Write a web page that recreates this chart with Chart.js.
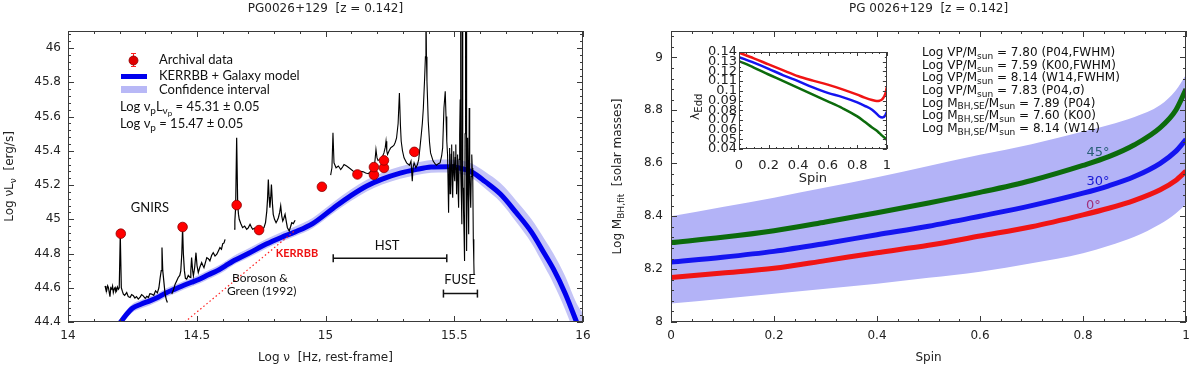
<!DOCTYPE html>
<html>
<head>
<meta charset="utf-8">
<script src="https://cdn.jsdelivr.net/npm/chart.js@4.4.1/dist/chart.umd.min.js"></script>
<style>
html,body{margin:0;padding:0;background:#ffffff;}
#wrap{position:relative;width:1200px;height:368px;overflow:hidden;background:#fff;}
#wrap canvas{position:absolute;display:block;}
</style>
</head>
<body>
<div id="wrap">
<canvas id="sed" width="600" height="368" style="left:0px;top:0px;width:600px;height:368px;"></canvas>
<canvas id="spin" width="600" height="368" style="left:600px;top:0px;width:600px;height:368px;"></canvas>
<canvas id="inset" width="210" height="150" style="left:690px;top:40px;width:210px;height:150px;"></canvas>
</div>
<script>
// ================= LEFT PANEL DATA (SED) =================
const sedTitleText = 'PG0026+129  [z = 0.142]';
const sedXTicks = [14, 14.5, 15, 15.5, 16];
const sedYTicks = [44.4, 44.6, 44.8, 45, 45.2, 45.4, 45.6, 45.8, 46];

const archivalNu = [14.205, 14.445, 14.655, 14.742, 14.986, 15.124, 15.188, 15.188, 15.227, 15.227, 15.345];
const archivalL  = [44.916, 44.955, 45.083, 44.937, 45.190, 45.262, 45.260, 45.305, 45.300, 45.344, 45.394];

const gnirs1Nu = [14.144, 14.147, 14.150, 14.154, 14.157, 14.160, 14.163, 14.166, 14.170, 14.173, 14.176, 14.180, 14.183, 14.186, 14.189, 14.192, 14.196, 14.199, 14.203, 14.207, 14.211, 14.215, 14.220, 14.228, 14.234, 14.241, 14.247, 14.254, 14.260, 14.266, 14.273, 14.280, 14.286, 14.292, 14.300, 14.306, 14.312, 14.318, 14.325, 14.333, 14.340, 14.347, 14.353, 14.358, 14.362, 14.365, 14.368, 14.372, 14.377, 14.382, 14.386];
const gnirs1L  = [44.611, 44.590, 44.582, 44.612, 44.601, 44.575, 44.548, 44.600, 44.592, 44.610, 44.572, 44.595, 44.601, 44.575, 44.582, 44.605, 44.592, 44.600, 44.913, 44.601, 44.580, 44.563, 44.556, 44.572, 44.548, 44.543, 44.560, 44.553, 44.540, 44.548, 44.534, 44.545, 44.560, 44.553, 44.538, 44.550, 44.543, 44.565, 44.563, 44.556, 44.582, 44.570, 44.600, 44.660, 44.700, 44.835, 44.700, 44.640, 44.563, 44.530, 44.514];

const gnirs2Nu = [14.403, 14.409, 14.416, 14.422, 14.428, 14.434, 14.438, 14.442, 14.445, 14.448, 14.452, 14.456, 14.461, 14.467, 14.474, 14.477, 14.480, 14.484, 14.487, 14.492, 14.497, 14.501, 14.506, 14.512, 14.519, 14.524, 14.528, 14.534, 14.539, 14.545, 14.551, 14.558, 14.564, 14.571, 14.578, 14.584, 14.590, 14.596, 14.601, 14.606, 14.610];
const gnirs2L  = [44.563, 44.585, 44.621, 44.640, 44.660, 44.672, 44.699, 44.800, 44.951, 44.800, 44.700, 44.655, 44.650, 44.672, 44.660, 44.700, 44.776, 44.700, 44.670, 44.720, 44.805, 44.730, 44.689, 44.720, 44.747, 44.730, 44.718, 44.750, 44.776, 44.770, 44.757, 44.790, 44.805, 44.785, 44.796, 44.815, 44.835, 44.825, 44.858, 44.862, 44.883];

const gnirs3Nu = [14.645, 14.648, 14.651, 14.655, 14.659, 14.662, 14.665, 14.671, 14.678, 14.686, 14.694, 14.700, 14.707, 14.712, 14.717, 14.725, 14.733, 14.740, 14.746, 14.754, 14.761, 14.767, 14.772, 14.775, 14.778, 14.781, 14.784, 14.787, 14.790, 14.794, 14.797, 14.802, 14.808, 14.813, 14.817, 14.822, 14.826, 14.830, 14.834, 14.838, 14.843, 14.848, 14.852, 14.856, 14.859, 14.864, 14.869, 14.875, 14.882];
const gnirs3L  = [44.942, 44.990, 45.068, 45.476, 45.087, 45.030, 45.000, 44.975, 44.951, 44.960, 44.942, 44.950, 44.971, 44.955, 44.942, 44.948, 44.942, 44.950, 44.955, 44.945, 44.951, 44.980, 45.048, 45.120, 45.233, 45.130, 45.068, 45.120, 45.203, 45.090, 45.029, 45.000, 44.980, 44.995, 45.009, 45.040, 45.078, 45.020, 44.990, 45.005, 45.029, 44.985, 44.951, 44.940, 44.932, 44.955, 44.980, 44.975, 44.994];

const hstNu = [15.020, 15.025, 15.029, 15.033, 15.041, 15.050, 15.059, 15.066, 15.072, 15.082, 15.095, 15.108, 15.118, 15.127, 15.137, 15.147, 15.156, 15.166, 15.179, 15.188, 15.192, 15.196, 15.200, 15.204, 15.211, 15.218, 15.227, 15.232, 15.235, 15.238, 15.241, 15.247, 15.253, 15.260, 15.266, 15.271, 15.276, 15.282, 15.287, 15.291, 15.294, 15.299, 15.305, 15.315, 15.326, 15.332, 15.337, 15.340, 15.344, 15.351, 15.357, 15.362, 15.367, 15.372, 15.376, 15.380, 15.385, 15.388, 15.390, 15.392, 15.394, 15.399, 15.404, 15.408, 15.418, 15.425, 15.431, 15.438, 15.445, 15.451, 15.455, 15.460, 15.465, 15.468, 15.471, 15.474];
const hstL  = [45.258, 45.301, 45.505, 45.330, 45.301, 45.311, 45.291, 45.305, 45.320, 45.311, 45.297, 45.281, 45.278, 45.272, 45.280, 45.277, 45.270, 45.266, 45.285, 45.297, 45.340, 45.408, 45.360, 45.344, 45.350, 45.355, 45.388, 45.420, 45.456, 45.400, 45.379, 45.400, 45.417, 45.425, 45.433, 45.450, 45.476, 45.560, 45.738, 45.550, 45.456, 45.400, 45.359, 45.330, 45.316, 45.340, 45.223, 45.300, 45.330, 45.301, 45.320, 45.350, 45.420, 45.495, 45.560, 45.650, 45.825, 45.950, 46.300, 45.950, 45.806, 45.573, 45.450, 45.388, 45.340, 45.325, 45.316, 45.325, 45.330, 45.370, 45.417, 45.650, 45.748, 45.600, 45.456, 45.379];

const fuseNu = [15.478, 15.480, 15.482, 15.484, 15.486, 15.488, 15.490, 15.492, 15.494, 15.496, 15.498, 15.500, 15.502, 15.504, 15.506, 15.508, 15.509, 15.511, 15.513, 15.515, 15.517, 15.519, 15.521, 15.523, 15.524, 15.526, 15.528, 15.529, 15.530, 15.531, 15.533, 15.534, 15.536, 15.538, 15.540, 15.542, 15.543, 15.545, 15.546, 15.548, 15.550, 15.552, 15.554, 15.556, 15.558, 15.560, 15.562, 15.564, 15.566, 15.568, 15.570, 15.572, 15.574, 15.576, 15.577];
const fuseL  = [45.038, 45.300, 45.417, 45.150, 45.184, 45.380, 45.437, 45.200, 45.126, 45.320, 45.398, 45.260, 45.223, 45.360, 45.437, 45.250, 45.146, 45.300, 45.379, 45.160, 45.068, 45.350, 45.495, 45.700, 46.300, 45.281, 45.100, 44.971, 45.400, 46.300, 45.300, 45.184, 45.050, 44.913, 44.757, 45.500, 46.300, 45.600, 46.300, 44.815, 45.200, 45.476, 45.150, 44.913, 45.650, 45.300, 45.150, 45.068, 45.250, 45.379, 45.300, 45.223, 44.883, 44.750, 44.680];

const modelNu = [14.185, 14.200, 14.225, 14.250, 14.285, 14.320, 14.350, 14.380, 14.415, 14.450, 14.480, 14.510, 14.545, 14.580, 14.610, 14.640, 14.700, 14.770, 14.830, 14.880, 14.950, 15.030, 15.100, 15.160, 15.220, 15.290, 15.350, 15.410, 15.470, 15.520, 15.570, 15.620, 15.680, 15.740, 15.800, 15.850, 15.885, 15.930, 15.975, 16.000];
const modelL  = [44.360, 44.390, 44.440, 44.480, 44.505, 44.525, 44.545, 44.570, 44.592, 44.615, 44.632, 44.650, 44.676, 44.700, 44.727, 44.755, 44.800, 44.855, 44.895, 44.925, 44.975, 45.065, 45.140, 45.195, 45.235, 45.270, 45.290, 45.305, 45.307, 45.300, 45.275, 45.220, 45.146, 45.040, 44.925, 44.800, 44.710, 44.570, 44.400, 44.300];
const confHi  = [44.385, 44.415, 44.465, 44.505, 44.530, 44.550, 44.570, 44.595, 44.617, 44.640, 44.657, 44.676, 44.702, 44.727, 44.754, 44.783, 44.829, 44.885, 44.926, 44.957, 45.008, 45.099, 45.175, 45.231, 45.272, 45.308, 45.330, 45.347, 45.350, 45.345, 45.325, 45.278, 45.210, 45.110, 45.000, 44.885, 44.800, 44.670, 44.510, 44.450];
const confLo  = [44.335, 44.365, 44.415, 44.455, 44.480, 44.500, 44.520, 44.545, 44.567, 44.590, 44.607, 44.625, 44.650, 44.675, 44.700, 44.730, 44.775, 44.830, 44.870, 44.900, 44.948, 45.035, 45.108, 45.163, 45.203, 45.237, 45.258, 45.272, 45.274, 45.266, 45.240, 45.180, 45.100, 44.985, 44.860, 44.725, 44.625, 44.475, 44.300, 44.200];

const bgNu = [14.454, 14.878];
const bgL  = [44.400, 44.930];
const hstBarNu = [15.030, 15.471];
const hstBarL  = [44.773, 44.773];
const fuseBarNu = [15.458, 15.590];
const fuseBarL  = [44.566, 44.566];

// ================= RIGHT PANEL DATA (mass vs spin) =================
const spinTitleText = 'PG 0026+129  [z = 0.142]';
const spinXTicks = [0, 0.2, 0.4, 0.6, 0.8, 1];
const massYTicks = [8, 8.2, 8.4, 8.6, 8.8, 9];
const spinGrid   = [0, 0.1, 0.2, 0.3, 0.4, 0.5, 0.6, 0.7, 0.8, 0.85, 0.9, 0.95, 0.98, 1];
const mass0deg   = [8.168, 8.185, 8.203, 8.232, 8.262, 8.290, 8.325, 8.360, 8.405, 8.430, 8.460, 8.500, 8.535, 8.570];
const mass30deg  = [8.227, 8.245, 8.267, 8.297, 8.330, 8.362, 8.400, 8.440, 8.487, 8.515, 8.550, 8.600, 8.645, 8.690];
const mass45deg  = [8.300, 8.320, 8.345, 8.378, 8.413, 8.450, 8.490, 8.535, 8.592, 8.625, 8.670, 8.735, 8.800, 8.880];
const massBandHi = [8.400, 8.435, 8.470, 8.508, 8.547, 8.590, 8.632, 8.672, 8.720, 8.745, 8.775, 8.820, 8.875, 8.935];
const massBandLo = [8.070, 8.088, 8.107, 8.126, 8.145, 8.167, 8.190, 8.222, 8.260, 8.288, 8.322, 8.370, 8.410, 8.446];
const massNotes = [
  [['Log VP/M',0],['sun',1],[' = 7.80 (P04,FWHM)',0]],
  [['Log VP/M',0],['sun',1],[' = 7.59 (K00,FWHM)',0]],
  [['Log VP/M',0],['sun',1],[' = 8.14 (W14,FWHM)',0]],
  [['Log VP/M',0],['sun',1],[' = 7.83 (P04,\u03c3)',0]],
  [['Log M',0],['BH,SE',1],['/M',0],['sun',1],[' = 7.89 (P04)',0]],
  [['Log M',0],['BH,SE',1],['/M',0],['sun',1],[' = 7.60 (K00)',0]],
  [['Log M',0],['BH,SE',1],['/M',0],['sun',1],[' = 8.14 (W14)',0]]
];

// ================= INSET DATA (Eddington ratio vs spin) =================
const insetXTicks = [0, 0.2, 0.4, 0.6, 0.8, 1];
const insetYTicks = [0.04, 0.05, 0.06, 0.07, 0.08, 0.09, 0.1, 0.11, 0.12, 0.13, 0.14];
const insetSpin  = [0, 0.1, 0.2, 0.3, 0.4, 0.5, 0.6, 0.7, 0.8, 0.85, 0.9, 0.93, 0.95, 0.97, 0.99, 1];
const eddRatio0  = [0.1393, 0.1335, 0.1272, 0.1210, 0.1150, 0.1105, 0.1064, 0.1015, 0.0960, 0.0930, 0.0905, 0.0895, 0.0898, 0.0915, 0.0970, 0.1040];
const eddRatio30 = [0.1348, 0.1290, 0.1227, 0.1160, 0.1100, 0.1035, 0.0978, 0.0935, 0.0880, 0.0845, 0.0805, 0.0765, 0.0735, 0.0725, 0.0748, 0.0785];
const eddRatio45 = [0.1307, 0.1240, 0.1168, 0.1100, 0.1030, 0.0960, 0.0891, 0.0820, 0.0736, 0.0680, 0.0622, 0.0590, 0.0563, 0.0535, 0.0510, 0.0494];

// ================= helpers =================
const pts = (xs, ys) => xs.map((x, i) => ({x: x, y: ys[i]}));
const FONT = 'DejaVu Sans';
const LATO = 'Lato, "DejaVu Sans"';

function rich(ctx, parts, x, y, o) {
  const size = o.size || 12, fam = o.family || FONT, weight = o.weight || 'normal';
  const sz = [size, Math.round(size * 0.74), Math.round(size * 0.6)];
  const dy = [0, size * 0.3, size * 0.5];
  let w = 0;
  const ws = parts.map(p => { ctx.font = weight + ' ' + sz[p[1]] + 'px ' + fam; const m = ctx.measureText(p[0]).width; w += m; return m; });
  let cx = o.align === 'center' ? x - w / 2 : (o.align === 'right' ? x - w : x);
  ctx.fillStyle = o.color || '#111';
  ctx.textAlign = 'left'; ctx.textBaseline = 'middle';
  parts.forEach((p, i) => { ctx.font = weight + ' ' + sz[p[1]] + 'px ' + fam; ctx.fillText(p[0], cx, y + dy[p[1]]); cx += ws[i]; });
}
function richRot(ctx, parts, x, y, o) {
  ctx.save(); ctx.translate(x, y); ctx.rotate(-Math.PI / 2);
  rich(ctx, parts, 0, 0, Object.assign({}, o, {align: 'center'}));
  ctx.restore();
}
function frameTicks(chart, o) {
  const ctx = chart.ctx, a = chart.chartArea, xs = chart.scales.x, ys = chart.scales.y;
  const isMaj = (v, s) => Math.abs(v / s - Math.round(v / s)) < 1e-6;
  ctx.save();
  ctx.strokeStyle = '#3a3a3a'; ctx.lineWidth = 1;
  ctx.beginPath();
  for (let k = Math.ceil(xs.min / o.xMinor - 1e-9); k * o.xMinor <= xs.max + 1e-9; k++) {
    const v = k * o.xMinor, p = Math.round(xs.getPixelForValue(v)) + 0.5;
    const L = isMaj(v, o.xMajor) ? o.maj : o.min;
    ctx.moveTo(p, a.bottom); ctx.lineTo(p, a.bottom - L);
    ctx.moveTo(p, a.top); ctx.lineTo(p, a.top + L);
  }
  for (let k = Math.ceil(ys.min / o.yMinor - 1e-9); k * o.yMinor <= ys.max + 1e-9; k++) {
    const v = k * o.yMinor, p = Math.round(ys.getPixelForValue(v)) + 0.5;
    const L = isMaj(v, o.yMajor) ? o.maj : o.min;
    ctx.moveTo(a.left, p); ctx.lineTo(a.left + L, p);
    ctx.moveTo(a.right, p); ctx.lineTo(a.right - L, p);
  }
  ctx.stroke();
  ctx.strokeRect(Math.round(a.left) + 0.5, Math.round(a.top) + 0.5, Math.round(a.right - a.left) - 1, Math.round(a.bottom - a.top) - 1);
  ctx.restore();
}
function axisCfg(min, max, ticksArr, o) {
  return {
    type: 'linear', min: min, max: max,
    afterBuildTicks: s => { s.ticks = ticksArr.map(v => ({value: v})); },
    afterFit: s => { if (o.w !== undefined) s.width = o.w; if (o.h !== undefined) s.height = o.h; },
    grid: {display: false, drawTicks: false},
    border: {display: false},
    ticks: {font: {family: FONT, size: o.size || 12}, color: '#222', padding: o.pad, autoSkip: false, maxRotation: 0, minRotation: 0,
      callback: v => String(v)}
  };
}
const baseOpts = {
  responsive: false, animation: false, events: [],
  plugins: {legend: {display: false}, tooltip: {enabled: false}, title: {display: false}}
};
const lineDs = (data, color, width, extra) => Object.assign({data: data, showLine: true, borderColor: color, borderWidth: width, pointRadius: 0, fill: false}, extra || {});

// ================= LEFT CHART =================
const sedDecor = {
  id: 'sedDecor',
  afterDraw(chart) {
    const ctx = chart.ctx, a = chart.chartArea, xs = chart.scales.x, ys = chart.scales.y;
    frameTicks(chart, {xMinor: 0.1, xMajor: 0.5, yMinor: 0.04, yMajor: 0.2, maj: 6, min: 3});
    const cx = (a.left + a.right) / 2;
    rich(ctx, [[sedTitleText, 0]], cx, 9, {size: 12, align: 'center', color: '#222'});
    rich(ctx, [['Log \u03bd  [Hz, rest-frame]', 0]], cx, 358, {size: 12, align: 'center', color: '#222'});
    richRot(ctx, [['Log \u03bdL', 0], ['\u03bd', 1], ['  [erg/s]', 0]], 10, (a.top + a.bottom) / 2, {size: 12, color: '#222'});
    // legend
    ctx.save();
    ctx.strokeStyle = '#ff2020'; ctx.lineWidth = 1;
    ctx.beginPath();
    ctx.moveTo(133.5, 53); ctx.lineTo(133.5, 67);
    ctx.moveTo(131, 53.5); ctx.lineTo(136, 53.5);
    ctx.moveTo(131, 66.5); ctx.lineTo(136, 66.5);
    ctx.stroke();
    ctx.beginPath(); ctx.arc(133.5, 60.5, 4.5, 0, Math.PI * 2);
    ctx.fillStyle = '#e00000'; ctx.fill(); ctx.strokeStyle = '#8a0000'; ctx.lineWidth = 0.8; ctx.stroke();
    ctx.fillStyle = '#0000ee'; ctx.fillRect(121, 74, 26, 5);
    ctx.fillStyle = '#b8b8f6'; ctx.fillRect(121, 86, 26, 7);
    ctx.restore();
    rich(ctx, [['Archival data', 0]], 159, 60, {size: 13, family: LATO});
    rich(ctx, [['KERRBB + Galaxy model', 0]], 159, 76, {size: 13, family: LATO});
    rich(ctx, [['Confidence interval', 0]], 159, 90, {size: 13, family: LATO});
    rich(ctx, [['Log \u03bd', 0], ['p', 1], ['L', 0], ['\u03bd', 1], ['p', 2], [' = 45.31 \u00b1 0.05', 0]], 120, 107, {size: 13, family: LATO});
    rich(ctx, [['Log \u03bd', 0], ['p', 1], [' = 15.47 \u00b1 0.05', 0]], 120, 124, {size: 13, family: LATO});
    // annotations
    const X = v => xs.getPixelForValue(v), Y = v => ys.getPixelForValue(v);
    rich(ctx, [['GNIRS', 0]], X(14.318), Y(45.066), {size: 13, family: LATO, align: 'center'});
    rich(ctx, [['KERRBB', 0]], X(14.889), Y(44.800), {size: 11, family: LATO, weight: 'bold', align: 'center', color: '#ee1111'});
    rich(ctx, [['Boroson &', 0]], X(14.745), Y(44.658), {size: 12, family: LATO, align: 'center'});
    rich(ctx, [['Green (1992)', 0]], X(14.752), Y(44.582), {size: 12, family: LATO, align: 'center'});
    rich(ctx, [['HST', 0]], X(15.239), Y(44.844), {size: 13, family: LATO, align: 'center'});
    rich(ctx, [['FUSE', 0]], X(15.522), Y(44.645), {size: 13, family: LATO, align: 'center'});
  }
};

new Chart(document.getElementById('sed'), {
  type: 'scatter',
  data: {datasets: [
    {data: pts(archivalNu, archivalL), pointRadius: 4.8, backgroundColor: '#ff0000', borderColor: '#8a0000', borderWidth: 0.8, showLine: false},
    lineDs(pts(gnirs1Nu, gnirs1L), '#000', 1.2),
    lineDs(pts(gnirs2Nu, gnirs2L), '#000', 1.2),
    lineDs(pts(gnirs3Nu, gnirs3L), '#000', 1.2),
    lineDs(pts(hstNu.concat(fuseNu), hstL.concat(fuseL)), '#000', 1.1),
    lineDs(pts(hstBarNu, hstBarL), '#111', 1.5, {pointStyle: 'line', rotation: 90, pointRadius: 4, pointBorderWidth: 1.5, pointBorderColor: '#111'}),
    lineDs(pts(fuseBarNu, fuseBarL), '#111', 1.5, {pointStyle: 'line', rotation: 90, pointRadius: 4, pointBorderWidth: 1.5, pointBorderColor: '#111'}),
    lineDs(pts(bgNu, bgL), '#ff2020', 1.2, {borderDash: [1.5, 2.5]}),
    lineDs(pts(modelNu, modelL), '#0000ee', 5, {cubicInterpolationMode: 'monotone', borderCapStyle: 'butt'}),
    lineDs(pts(modelNu, confHi), 'rgba(0,0,0,0)', 0, {cubicInterpolationMode: 'monotone', fill: '+1', backgroundColor: '#c4c4f7'}),
    lineDs(pts(modelNu, confLo), 'rgba(0,0,0,0)', 0, {cubicInterpolationMode: 'monotone'})
  ]},
  options: Object.assign({}, baseOpts, {
    layout: {padding: {top: 31, right: 17, left: 0, bottom: 0}},
    scales: {
      x: axisCfg(14, 16, sedXTicks, {h: 46, pad: 7}),
      y: axisCfg(44.4, 46.1, sedYTicks, {w: 68, pad: 7})
    }
  }),
  plugins: [sedDecor]
});

// ================= RIGHT CHART =================
const spinDecor = {
  id: 'spinDecor',
  afterDraw(chart) {
    const ctx = chart.ctx, a = chart.chartArea, xs = chart.scales.x, ys = chart.scales.y;
    frameTicks(chart, {xMinor: 0.04, xMajor: 0.2, yMinor: 0.04, yMajor: 0.2, maj: 6, min: 3});
    const cx = (a.left + a.right) / 2;
    rich(ctx, [[spinTitleText, 0]], cx, 9, {size: 12, align: 'center', color: '#222'});
    rich(ctx, [['Spin', 0]], cx, 358, {size: 12, align: 'center', color: '#222'});
    richRot(ctx, [['Log M', 0], ['BH,fit', 1], ['  [solar masses]', 0]], 18, (a.top + a.bottom) / 2, {size: 12, color: '#222'});
    massNotes.forEach((parts, i) => rich(ctx, parts, 322, 53 + 12.6 * i, {size: 12, color: '#111'}));
    const X = v => xs.getPixelForValue(v), Y = v => ys.getPixelForValue(v);
    rich(ctx, [['45\u00b0', 0]], X(0.829), Y(8.642), {size: 13, align: 'center', color: '#2a5f78'});
    rich(ctx, [['30\u00b0', 0]], X(0.829), Y(8.529), {size: 13, align: 'center', color: '#1a1ad6'});
    rich(ctx, [['0\u00b0', 0]], X(0.820), Y(8.440), {size: 13, align: 'center', color: '#a0307a'});
  }
};

new Chart(document.getElementById('spin'), {
  type: 'scatter',
  data: {datasets: [
    lineDs(pts(spinGrid, mass0deg), '#f01414', 5, {cubicInterpolationMode: 'monotone'}),
    lineDs(pts(spinGrid, mass30deg), '#1414f0', 5, {cubicInterpolationMode: 'monotone'}),
    lineDs(pts(spinGrid, mass45deg), '#0c6b0c', 5, {cubicInterpolationMode: 'monotone'}),
    lineDs(pts(spinGrid, massBandHi), 'rgba(0,0,0,0)', 0, {cubicInterpolationMode: 'monotone', fill: '+1', backgroundColor: '#b3b3f7'}),
    lineDs(pts(spinGrid, massBandLo), 'rgba(0,0,0,0)', 0, {cubicInterpolationMode: 'monotone'})
  ]},
  options: Object.assign({}, baseOpts, {
    layout: {padding: {top: 31, right: 14, left: 0, bottom: 0}},
    scales: {
      x: axisCfg(0, 1, spinXTicks, {h: 46, pad: 7}),
      y: axisCfg(8, 9.1, massYTicks, {w: 71, pad: 8})
    }
  }),
  plugins: [spinDecor]
});

// ================= INSET CHART =================
const insetDecor = {
  id: 'insetDecor',
  afterDraw(chart) {
    const ctx = chart.ctx, a = chart.chartArea;
    frameTicks(chart, {xMinor: 0.05, xMajor: 0.2, yMinor: 0.005, yMajor: 0.01, maj: 4, min: 2});
    rich(ctx, [['Spin', 0]], (a.left + a.right) / 2, 139, {size: 13, align: 'center', color: '#222'});
    richRot(ctx, [['\u03bb', 0], ['Edd', 1]], 6, 67, {size: 13, color: '#222'});
  }
};

new Chart(document.getElementById('inset'), {
  type: 'scatter',
  data: {datasets: [
    lineDs(pts(insetSpin, eddRatio0), '#f01414', 2.5, {cubicInterpolationMode: 'monotone'}),
    lineDs(pts(insetSpin, eddRatio30), '#1414f0', 2.5, {cubicInterpolationMode: 'monotone'}),
    lineDs(pts(insetSpin, eddRatio45), '#0c6b0c', 2.5, {cubicInterpolationMode: 'monotone'})
  ]},
  options: Object.assign({}, baseOpts, {
    layout: {padding: {top: 12, right: 11, left: 0, bottom: 0}},
    scales: {
      x: axisCfg(0, 1, insetXTicks, {h: 41, pad: 9, size: 13}),
      y: axisCfg(0.04, 0.14, insetYTicks, {w: 49, pad: 2, size: 13})
    }
  }),
  plugins: [insetDecor]
});
</script>
</body>
</html>
